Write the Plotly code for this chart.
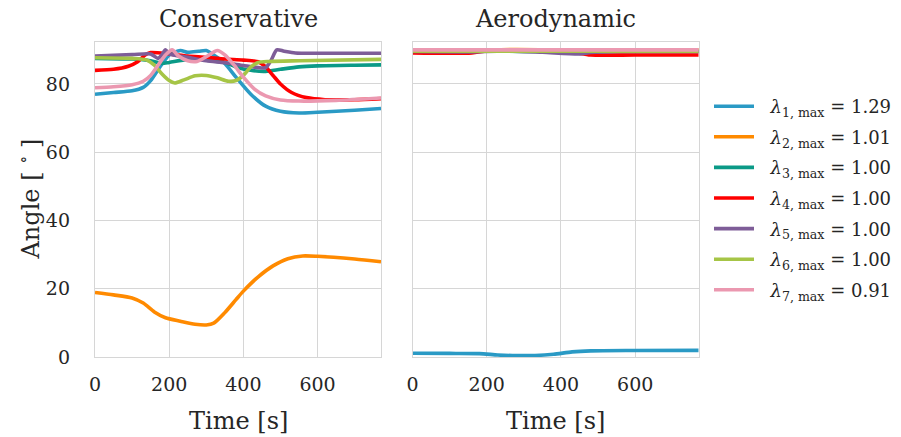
import plotly.graph_objects as go

# ---- Conservative panel: angle [deg] vs time [s] ----
cons_t1 = [0, 50, 100, 130, 150, 175, 200, 230, 250, 280, 300, 320, 350, 380, 420, 460, 500, 550, 600, 700, 771]
cons_a1 = [77.0, 77.5, 78.0, 79.0, 81.0, 85.0, 88.5, 89.8, 89.3, 89.6, 89.8, 88.5, 86.0, 82.0, 77.0, 73.5, 72.0, 71.5, 71.7, 72.3, 72.8]

cons_t2 = [0, 50, 100, 130, 160, 190, 230, 270, 300, 320, 350, 380, 400, 440, 480, 520, 560, 600, 700, 771]
cons_a2 = [18.9, 18.2, 17.3, 15.8, 13.2, 11.5, 10.5, 9.6, 9.4, 9.9, 13.0, 16.8, 19.3, 23.5, 26.7, 28.8, 29.6, 29.5, 28.7, 27.9]

cons_t3 = [0, 100, 150, 180, 200, 250, 300, 350, 380, 420, 460, 500, 550, 600, 700, 771]
cons_a3 = [87.5, 87.3, 86.8, 86.0, 86.3, 87.2, 87.0, 86.3, 85.0, 84.0, 83.7, 84.3, 85.0, 85.3, 85.5, 85.6]

cons_t4 = [0, 50, 90, 115, 135, 150, 200, 250, 300, 350, 400, 440, 460, 480, 500, 530, 570, 620, 700, 771]
cons_a4 = [84.0, 84.3, 85.2, 86.5, 88.5, 89.2, 88.8, 88.2, 87.8, 87.3, 87.0, 86.5, 85.0, 82.5, 80.0, 77.5, 76.0, 75.4, 75.4, 75.7]

cons_t5 = [0, 100, 150, 170, 180, 190, 200, 250, 300, 350, 400, 440, 460, 475, 490, 510, 540, 600, 771]
cons_a5 = [88.2, 88.6, 88.8, 87.5, 88.5, 90.0, 88.8, 87.8, 86.8, 86.2, 85.4, 84.8, 84.8, 87.0, 90.0, 89.6, 89.1, 89.0, 89.0]

cons_t6 = [0, 100, 140, 160, 180, 200, 215, 240, 270, 300, 330, 360, 380, 400, 420, 440, 470, 550, 771]
cons_a6 = [87.7, 87.5, 87.0, 85.5, 83.0, 81.0, 80.3, 81.2, 82.4, 82.5, 81.8, 80.8, 81.0, 82.5, 85.0, 86.3, 86.6, 86.8, 87.2]

cons_t7 = [0, 50, 100, 130, 150, 170, 190, 208, 225, 250, 275, 300, 330, 350, 375, 400, 430, 460, 500, 550, 650, 771]
cons_a7 = [78.9, 79.2, 79.8, 80.8, 82.5, 85.5, 88.5, 90.0, 88.2, 86.8, 86.6, 88.0, 89.8, 88.5, 85.5, 82.0, 78.5, 76.5, 75.3, 75.0, 75.2, 75.9]

# ---- Aerodynamic panel ----
aero_t1 = [0, 100, 180, 230, 280, 330, 380, 430, 480, 600, 771]
aero_a1 = [1.1, 1.05, 1.0, 0.6, 0.4, 0.45, 0.8, 1.5, 1.8, 1.9, 1.95]

aero_t2 = [0, 200, 280, 400, 550, 771]
aero_a2 = [89.9, 90.0, 90.1, 90.0, 90.05, 90.0]

aero_t3 = [0, 200, 400, 600, 771]
aero_a3 = [89.4, 89.6, 89.5, 89.5, 89.5]

aero_t4 = [0, 160, 200, 300, 400, 440, 480, 600, 771]
aero_a4 = [89.1, 89.1, 89.7, 90.0, 89.8, 89.2, 88.5, 88.5, 88.5]

aero_t5 = [0, 150, 250, 350, 450, 480, 550, 771]
aero_a5 = [89.5, 89.4, 89.7, 89.3, 88.8, 89.2, 89.5, 89.5]

aero_t6 = [0, 200, 400, 600, 771]
aero_a6 = [89.6, 89.6, 89.6, 89.6, 89.6]

aero_t7 = [0, 200, 400, 600, 771]
aero_a7 = [90.0, 90.0, 90.0, 90.0, 90.0]

lambda_max = ["1.29", "1.01", "1.00", "1.00", "1.00", "1.00", "0.91"]
colors = ["#2a9ac5", "#ff8a00", "#0b9a87", "#ff0000", "#7e5d98", "#a6c546", "#eb98b0"]

x_ticks = [0, 200, 400, 600]
y_ticks = [0, 20, 40, 60, 80]

cons = [(cons_t1, cons_a1), (cons_t2, cons_a2), (cons_t3, cons_a3), (cons_t4, cons_a4),
        (cons_t5, cons_a5), (cons_t6, cons_a6), (cons_t7, cons_a7)]
aero = [(aero_t1, aero_a1), (aero_t2, aero_a2), (aero_t3, aero_a3), (aero_t4, aero_a4),
        (aero_t5, aero_a5), (aero_t6, aero_a6), (aero_t7, aero_a7)]

FONT = "DejaVu Serif"
TXT = "#262626"
GRID = "#d6d6d6"
W, H = 901, 437

fig = go.Figure()
for i, ((t, a), c) in enumerate(zip(cons, colors)):
    fig.add_trace(go.Scatter(
        x=t, y=a, mode="lines", xaxis="x", yaxis="y",
        line=dict(color=c, width=3.6, shape="spline", smoothing=0.7),
        name=f"&nbsp;&nbsp;<i>λ</i><sub>{i + 1}, max</sub> = {lambda_max[i]}",
        legendgroup=f"g{i}", showlegend=True,
    ))
for i, ((t, a), c) in enumerate(zip(aero, colors)):
    fig.add_trace(go.Scatter(
        x=t, y=a, mode="lines", xaxis="x2", yaxis="y2",
        line=dict(color=c, width=3.6, shape="spline", smoothing=0.7),
        legendgroup=f"g{i}", showlegend=False,
    ))

y_top = 1 - 42 / H
y_bot = 1 - 357 / H
xdom1 = [95 / W, 381 / W]
xdom2 = [412.5 / W, 698.7 / W]

axis_common = dict(
    showgrid=True, gridcolor=GRID, gridwidth=1,
    showline=True, linecolor=GRID, linewidth=1.3, mirror=True,
    zeroline=False, ticks="", automargin=False,
    tickfont=dict(family=FONT, size=19, color=TXT),
)

fig.update_layout(
    width=W, height=H,
    margin=dict(l=0, r=0, t=0, b=0, autoexpand=False),
    paper_bgcolor="white", plot_bgcolor="white",
    font=dict(family=FONT, color=TXT),
    xaxis=dict(domain=xdom1, range=[0, 771], tickvals=x_ticks, anchor="y", ticklabelstandoff=10, **axis_common),
    yaxis=dict(domain=[y_bot, y_top], range=[0, 92.3], tickvals=y_ticks, anchor="x", ticklabelstandoff=20, **axis_common),
    xaxis2=dict(domain=xdom2, range=[0, 771], tickvals=x_ticks, anchor="y2", ticklabelstandoff=10, **axis_common),
    yaxis2=dict(domain=[y_bot, y_top], range=[0, 92.3], tickvals=y_ticks, anchor="x2",
                showticklabels=False, **axis_common),
    legend=dict(
        x=709 / W, y=1 - 88 / H, xanchor="left", yanchor="top",
        font=dict(family=FONT, size=18, color=TXT),
        tracegroupgap=4.2, bgcolor="rgba(0,0,0,0)", itemwidth=40,
    ),
    showlegend=True,
)

# Panel titles and axis labels
def label(text, x, y, angle=0):
    fig.add_annotation(text=text, x=x, y=y, xref="paper", yref="paper", showarrow=False,
                       textangle=angle, font=dict(family=FONT, size=24, color=TXT),
                       xanchor="center", yanchor="middle")

label("Conservative", sum(xdom1) / 2, 1 - 18.5 / H)
label("Aerodynamic", sum(xdom2) / 2, 1 - 18.5 / H)
label("Time [s]", sum(xdom1) / 2, 1 - 421 / H)
label("Time [s]", sum(xdom2) / 2, 1 - 421 / H)
label("Angle [ <sup>∘</sup> ]", 28 / W, (y_top + y_bot) / 2, angle=-90)

fig.write_html("out.html")
